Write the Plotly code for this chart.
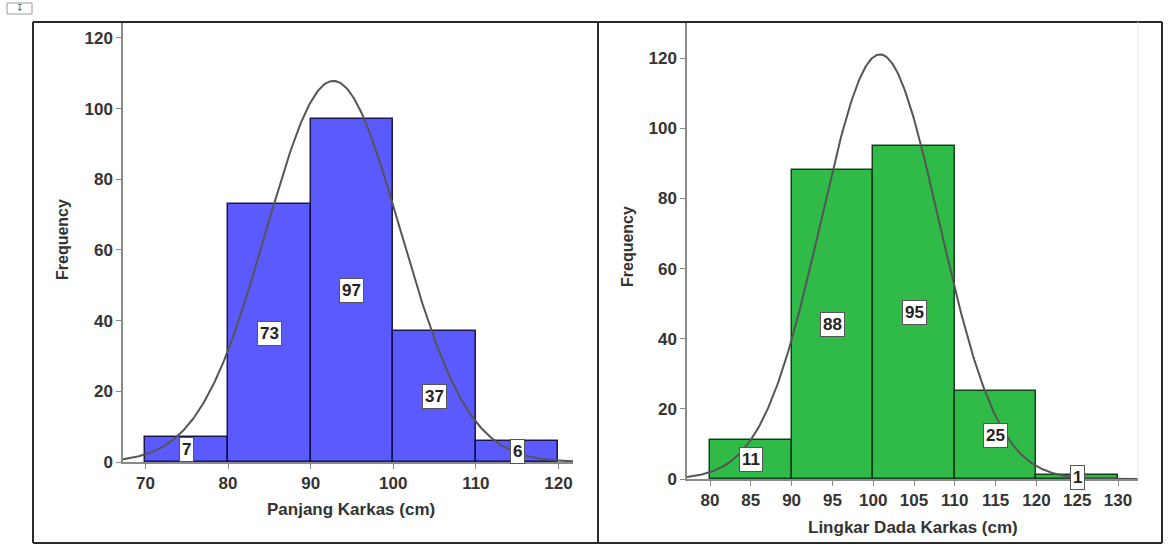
import numpy as np
import plotly.graph_objects as go

# ---- data ----
bins_left = [70, 80, 90, 100, 110, 120]           # bin edges, Panjang Karkas
counts_left = [7, 73, 97, 37, 6]
bins_right = [80, 90, 100, 110, 120, 130]         # bin edges, Lingkar Dada Karkas
counts_right = [11, 88, 95, 25, 1]

# fitted normal curve parameters (SPSS overlay)
mean_left, sd_left, n_left = 92.75, 8.14, 220
mean_right, sd_right, n_right = 100.83, 7.25, 220

xticks_left = [70, 80, 90, 100, 110, 120]
xticks_right = [80, 85, 90, 95, 100, 105, 110, 115, 120, 125, 130]
yticks = [0, 20, 40, 60, 80, 100, 120]

xtitle_left = "Panjang Karkas (cm)"
xtitle_right = "Lingkar Dada Karkas (cm)"
ytitle = "Frequency"

# ---- styling ----
W, H = 1168, 560
FONT = "Liberation Sans"
BLUE = "rgb(90,90,255)"
GREEN = "rgb(48,186,72)"
AXIS_COLOR = "#8a8a8a"
TXT = "#333333"

xr_left = [67.28, 121.76]
yr_left = [0, 124.5]
xr_right = [77.18, 132.45]
yr_right = [0, 130.3]


def px_x(p):
    return p / W


def px_y(p):
    return (H - p) / H


def centers(edges):
    return [(edges[i] + edges[i + 1]) / 2 for i in range(len(edges) - 1)]


def widths(edges):
    return [edges[i + 1] - edges[i] for i in range(len(edges) - 1)]


def normal_curve(mean, sd, n, bw, xr):
    xs = np.linspace(xr[0], xr[1], 400)
    ys = n * bw / (sd * np.sqrt(2 * np.pi)) * np.exp(-0.5 * ((xs - mean) / sd) ** 2)
    return xs, ys


fig = go.Figure()

# left histogram
fig.add_trace(go.Bar(
    x=centers(bins_left), y=counts_left, width=widths(bins_left),
    marker=dict(color=BLUE, line=dict(color="rgba(10,10,60,0.9)", width=1.5)),
    xaxis="x", yaxis="y", showlegend=False, hoverinfo="x+y"))
cx, cy = normal_curve(mean_left, sd_left, n_left, bins_left[1] - bins_left[0], xr_left)
fig.add_trace(go.Scatter(x=cx, y=cy, mode="lines",
                         line=dict(color="#555555", width=2),
                         xaxis="x", yaxis="y", showlegend=False, hoverinfo="skip"))

# right histogram
fig.add_trace(go.Bar(
    x=centers(bins_right), y=counts_right, width=widths(bins_right),
    marker=dict(color=GREEN, line=dict(color="rgba(5,50,15,0.9)", width=1.5)),
    xaxis="x2", yaxis="y2", showlegend=False, hoverinfo="x+y"))
cx2, cy2 = normal_curve(mean_right, sd_right, n_right, bins_right[1] - bins_right[0], xr_right)
fig.add_trace(go.Scatter(x=cx2, y=cy2, mode="lines",
                         line=dict(color="#555555", width=2),
                         xaxis="x2", yaxis="y2", showlegend=False, hoverinfo="skip"))

tickfont = dict(family=FONT, size=17, color=TXT, weight="bold")
common_axis = dict(showgrid=False, zeroline=False, showline=True,
                   linecolor=AXIS_COLOR, linewidth=1.5,
                   ticks="outside", ticklen=5, tickcolor=AXIS_COLOR, tickwidth=1.2,
                   tickfont=tickfont, fixedrange=True, automargin=False)

fig.update_layout(
    width=W, height=H,
    margin=dict(l=0, r=0, t=0, b=0, pad=0, autoexpand=False),
    paper_bgcolor="white", plot_bgcolor="white",
    showlegend=False,
    bargap=0,
    xaxis=dict(domain=[px_x(123), px_x(573)], range=xr_left, anchor="y",
               tickvals=xticks_left, **common_axis),
    yaxis=dict(domain=[px_y(462), px_y(22)], range=yr_left, anchor="x",
               tickvals=yticks, **common_axis),
    xaxis2=dict(domain=[px_x(687), px_x(1138)], range=xr_right, anchor="y2",
                tickvals=xticks_right, **common_axis),
    yaxis2=dict(domain=[px_y(479), px_y(22)], range=yr_right, anchor="x2",
                tickvals=yticks, **common_axis),
)

annotations = []
labfont = dict(family=FONT, size=17, color="#222222", weight="bold")
for xc, c in zip(centers(bins_left), counts_left):
    annotations.append(dict(x=xc, y=c / 2, xref="x", yref="y", text=str(c),
                            showarrow=False, font=labfont, bgcolor="white",
                            bordercolor="#555555", borderwidth=1, borderpad=2))
for xc, c in zip(centers(bins_right), counts_right):
    annotations.append(dict(x=xc, y=c / 2, xref="x2", yref="y2", text=str(c),
                            showarrow=False, font=labfont, bgcolor="white",
                            bordercolor="#555555", borderwidth=1, borderpad=2))

titlefont = dict(family=FONT, size=17, color=TXT, weight="bold")
yfont = dict(family=FONT, size=16, color=TXT, weight="bold")
annotations += [
    dict(x=px_x(351), y=px_y(509), xref="paper", yref="paper", text=xtitle_left,
         showarrow=False, font=titlefont, xanchor="center", yanchor="middle"),
    dict(x=px_x(913), y=px_y(527), xref="paper", yref="paper", text=xtitle_right,
         showarrow=False, font=titlefont, xanchor="center", yanchor="middle"),
    dict(x=px_x(62), y=px_y(240), xref="paper", yref="paper", text=ytitle,
         showarrow=False, font=yfont, textangle=-90, xanchor="center", yanchor="middle"),
    dict(x=px_x(627), y=px_y(247), xref="paper", yref="paper", text=ytitle,
         showarrow=False, font=yfont, textangle=-90, xanchor="center", yanchor="middle"),
    dict(x=px_x(19.5), y=px_y(8), xref="paper", yref="paper", text="↧",
         showarrow=False, font=dict(family="DejaVu Sans", size=9, color="#555555"),
         xanchor="center", yanchor="middle"),
]
fig.update_layout(annotations=annotations)

frame = dict(type="line", xref="paper", yref="paper",
             line=dict(color="#2a2a2a", width=2))
shapes = [
    dict(frame, x0=px_x(33), x1=px_x(1162), y0=px_y(22), y1=px_y(22)),
    dict(frame, x0=px_x(33), x1=px_x(1162), y0=px_y(543), y1=px_y(543)),
    dict(frame, x0=px_x(33), x1=px_x(33), y0=px_y(22), y1=px_y(543)),
    dict(frame, x0=px_x(598), x1=px_x(598), y0=px_y(22), y1=px_y(543)),
    dict(frame, x0=px_x(1162), x1=px_x(1162), y0=px_y(22), y1=px_y(543)),
    # faint plot-area border on the right chart
    dict(type="line", xref="paper", yref="paper", x0=px_x(1138), x1=px_x(1138),
         y0=px_y(479), y1=px_y(22), line=dict(color="#e6e6e6", width=1)),
    # small table handle icon
    dict(type="rect", xref="paper", yref="paper", x0=px_x(7), x1=px_x(32),
         y0=px_y(14), y1=px_y(3), line=dict(color="#999999", width=1)),
]
fig.update_layout(shapes=shapes)

fig.write_html("out.html", config={"displayModeBar": False},
               post_script="document.body.style.margin='0';document.body.style.overflow='hidden';")
